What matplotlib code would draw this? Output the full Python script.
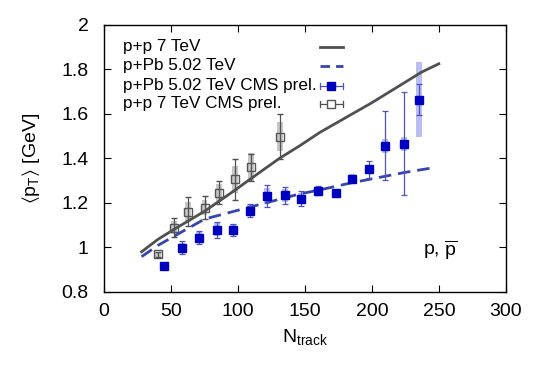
import matplotlib
matplotlib.use("Agg")
import matplotlib.pyplot as plt
from matplotlib.lines import Line2D
import numpy as np

plt.rcParams['font.family'] = ['Liberation Sans', 'DejaVu Sans']
plt.rcParams['mathtext.fontset'] = 'custom'
plt.rcParams['mathtext.rm'] = 'Liberation Sans'
plt.rcParams['mathtext.it'] = 'Liberation Sans:italic'
plt.rcParams['mathtext.bf'] = 'Liberation Sans:bold'
plt.rcParams['mathtext.fallback'] = 'stixsans'

# Theory curves
pp_curve_x = [28, 40, 52, 75, 98, 109, 131, 146, 161, 200, 237, 250]
pp_curve_y = [0.98, 1.035, 1.08, 1.162, 1.258, 1.306, 1.40, 1.456, 1.516, 1.65, 1.787, 1.825]
ppb_curve_x = [28, 40, 52, 75, 109, 146, 161, 184, 224, 248]
ppb_curve_y = [0.958, 1.008, 1.049, 1.127, 1.181, 1.240, 1.258, 1.289, 1.336, 1.360]

# CMS p+Pb 5.02 TeV data
ppb_x = [45, 58, 71, 84, 96, 109, 122, 135, 147, 160, 173, 185, 198, 210, 224, 235]
ppb_y = [0.918, 0.999, 1.044, 1.079, 1.079, 1.165, 1.231, 1.233, 1.218, 1.255, 1.244, 1.308, 1.350, 1.456, 1.465, 1.663]
ppb_stat = [0.01, 0.028, 0.031, 0.037, 0.028, 0.028, 0.05, 0.037, 0.034, 0.02, 0.01, 0.016, 0.04, 0.155, 0.232, 0.07]
ppb_sys = [0.015, 0.02, 0.025, 0.03, 0.025, 0.025, 0.035, 0.03, 0.025, 0.018, 0.015, 0.02, 0.02, 0.03, 0.03, 0.168]

# CMS p+p 7 TeV data
pp_x = [40, 52, 63, 75, 85.5, 97.7, 109.4, 131.3]
pp_y = [0.968, 1.089, 1.161, 1.179, 1.246, 1.305, 1.360, 1.498]
pp_stat = [0.01, 0.043, 0.065, 0.05, 0.052, 0.092, 0.06, 0.10]
pp_sys = [0.012, 0.03, 0.045, 0.035, 0.037, 0.06, 0.064, 0.067]

legend_labels = ['p+p 7 TeV', 'p+Pb 5.02 TeV', 'p+Pb 5.02 TeV CMS prel.', 'p+p 7 TeV CMS prel.']

fig = plt.figure(figsize=(5.45, 3.82), dpi=100)
ax = fig.add_axes([0.191, 0.236, 0.737, 0.699])

gray_line = '#505050'
blue_line = '#3346b0'
blue_pt = '#0000c0'
blue_err = '#5050c8'
gray_err = '#505050'

# systematic boxes
box_w = 2.2
for x, y, s in zip(pp_x, pp_y, pp_sys):
    ax.add_patch(plt.Rectangle((x - box_w, y - s), 2 * box_w, 2 * s,
                               facecolor='#b8b8b8', edgecolor='none', alpha=0.8, zorder=2))
for x, y, s in zip(ppb_x, ppb_y, ppb_sys):
    ax.add_patch(plt.Rectangle((x - box_w, y - s), 2 * box_w, 2 * s,
                               facecolor='#aab0ec', edgecolor='none', alpha=0.8, zorder=2))

dash = (0, (4.5, 2.5))
ax.plot(pp_curve_x, pp_curve_y, color=gray_line, lw=2.0, zorder=3)
ax.plot(ppb_curve_x, ppb_curve_y, color=blue_line, lw=2.0, ls=dash, zorder=3)

ax.errorbar(ppb_x, ppb_y, yerr=ppb_stat, fmt='s', color=blue_pt, ms=6,
            ecolor=blue_err, elinewidth=0.9, capsize=2.5, capthick=0.9, zorder=4)
ax.errorbar(pp_x, pp_y, yerr=pp_stat, fmt='s', mfc='none', mec='#555555', mew=1.0, ms=6,
            ecolor=gray_err, elinewidth=0.9, capsize=2.5, capthick=0.9, zorder=4)

ax.set_xlim(0, 300)
ax.set_ylim(0.8, 2.0)
ax.set_xticks([0, 50, 100, 150, 200, 250, 300])
ax.set_yticks([0.8, 1, 1.2, 1.4, 1.6, 1.8, 2])
ax.set_yticklabels(['0.8', '1', '1.2', '1.4', '1.6', '1.8', '2'])
ax.tick_params(direction='in', top=True, right=True, labelsize=14, length=5, width=0.8)
ax.tick_params(axis='x', pad=8)
ax.tick_params(axis='y', pad=11)
for sp in ax.spines.values():
    sp.set_linewidth(1.0)

ax.set_xlabel(r'N$_{\mathrm{track}}$', fontsize=14, labelpad=5)
ax.set_ylabel(r'$\langle$p$_{\mathrm{T}}\rangle$ [GeV]', fontsize=14, labelpad=14)

ax.text(0.836, 0.157, r'p, $\overline{\mathrm{p}}$', transform=ax.transAxes, fontsize=14,
        ha='center', va='center')

# manual gnuplot-style legend (text left, sample right)
rows_y = [0.918, 0.846, 0.772, 0.704]
tx = 0.047
sx0, sx1 = 0.537, 0.595
sm = 0.5 * (sx0 + sx1)
T = ax.transAxes
for lab, yy in zip(legend_labels, rows_y):
    ax.text(tx, yy, lab, transform=T, fontsize=12.3, ha='left', va='center')
ax.add_line(Line2D([sx0, sx1], [rows_y[0]] * 2, transform=T, color=gray_line, lw=2.0))
ax.add_line(Line2D([sx0, sx1], [rows_y[1]] * 2, transform=T, color=blue_line, lw=2.0,
                   ls=(0, (3.4, 2.2))))
for yy, mfc, mec, ec in [(rows_y[2], blue_pt, blue_pt, blue_err), (rows_y[3], 'white', '#555555', gray_err)]:
    ax.add_line(Line2D([sx0, sx1], [yy, yy], transform=T, color=ec, lw=0.9))
    for xx in (sx0, sx1):
        ax.add_line(Line2D([xx, xx], [yy - 0.012, yy + 0.012], transform=T, color=ec, lw=0.9))
    ax.add_line(Line2D([sm], [yy], transform=T, marker='s', ms=6, mfc=mfc, mec=mec, mew=1.0, ls='none'))

fig.savefig('out.png', dpi=100)
